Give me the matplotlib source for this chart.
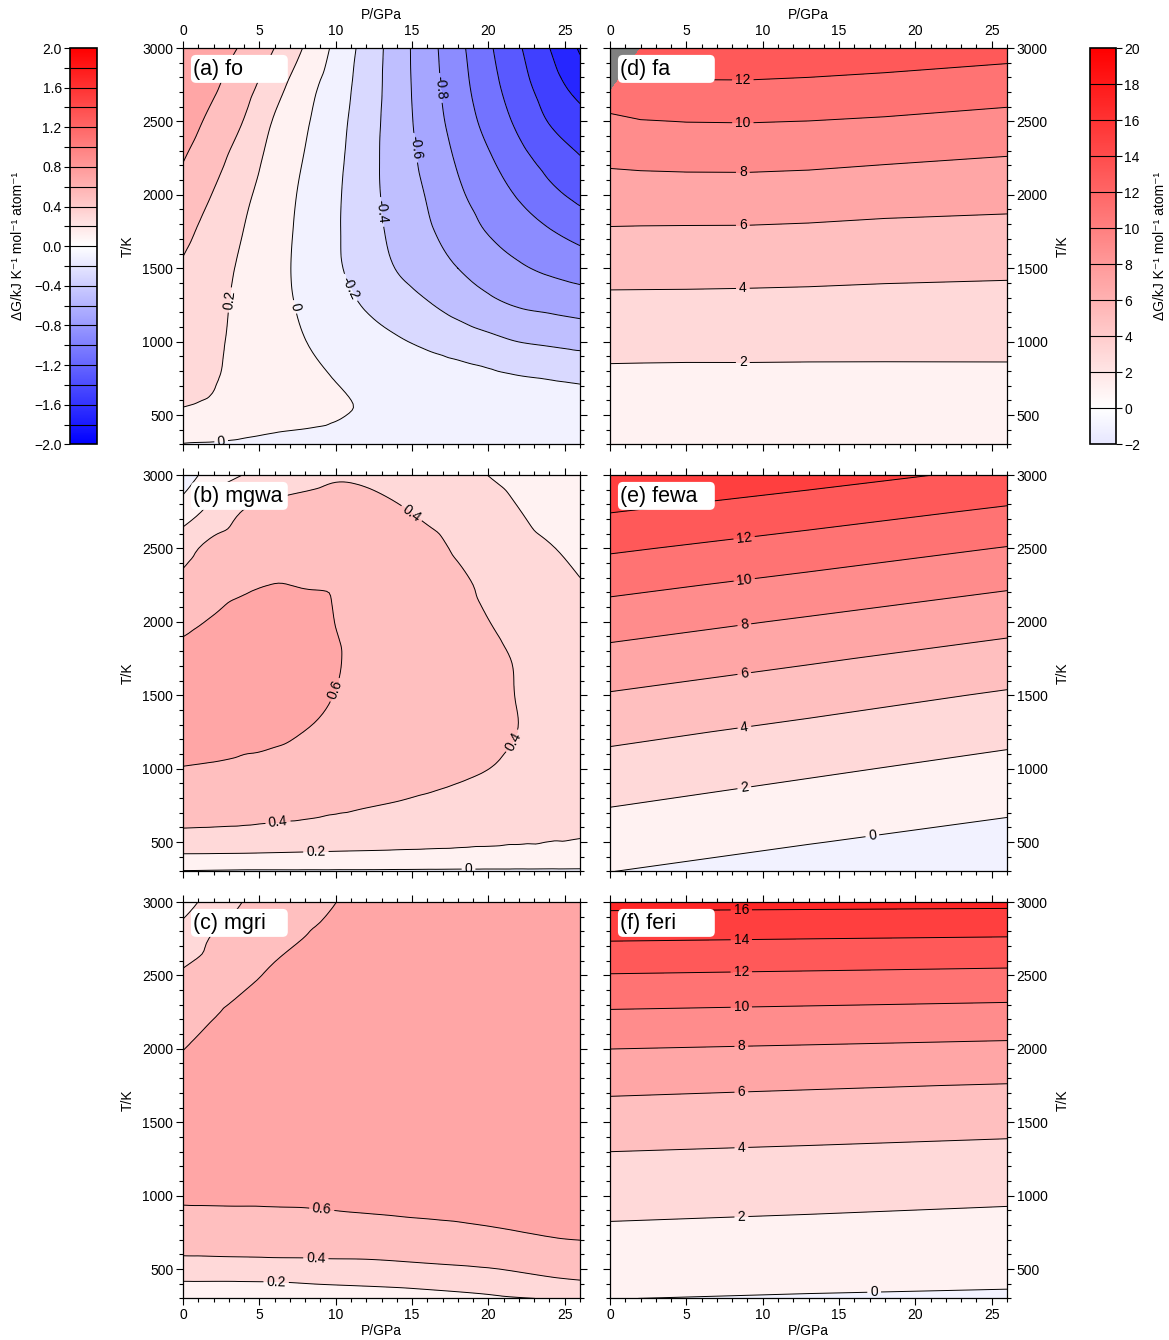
import numpy as np
import matplotlib
matplotlib.use("Agg")
import matplotlib.pyplot as plt
import matplotlib.tri as mtri
from matplotlib.colors import LinearSegmentedColormap, Normalize
from matplotlib.cm import ScalarMappable
from matplotlib.patches import FancyBboxPatch
from matplotlib.ticker import MultipleLocator, FuncFormatter

plt.rcParams['font.family'] = ['Liberation Sans', 'DejaVu Sans']
plt.rcParams['axes.unicode_minus'] = True
plt.rcParams['contour.negative_linestyle'] = 'solid'

# ---------------------------------------------------------------------------
# Gibbs energy differences, dG (kJ K^-1 mol^-1 atom^-1), on P-T grids.
# Each G array is listed row by row, from the lowest T upward.
# ---------------------------------------------------------------------------
P_mg = [0, 2, 4, 6, 8, 10, 12, 14, 16, 18, 20, 22, 24, 26]
T_mg = [300, 400, 550, 750, 1000, 1250, 1500, 1750, 2000, 2250, 2500, 2750, 3000]

G_fo = [
    [-0.005, -0.01, -0.02, -0.03, -0.04, -0.05, -0.06, -0.07, -0.08, -0.09, -0.10, -0.105, -0.11, -0.115],
    [0.07, 0.05, 0.03, 0.01, -0.003, -0.02, -0.035, -0.05, -0.065, -0.08, -0.09, -0.10, -0.11, -0.12],
    [0.198, 0.17, 0.14, 0.105, 0.07, 0.025, -0.015, -0.05, -0.08, -0.10, -0.12, -0.135, -0.15, -0.16],
    [0.25, 0.208, 0.156, 0.101, 0.047, -0.005, -0.035, -0.066, -0.096, -0.127, -0.159, -0.188, -0.205, -0.22],
    [0.30, 0.227, 0.153, 0.078, 0.003, -0.058, -0.118, -0.179, -0.236, -0.292, -0.347, -0.402, -0.43, -0.461],
    [0.34, 0.247, 0.154, 0.061, -0.033, -0.126, -0.217, -0.30, -0.383, -0.468, -0.553, -0.615, -0.648, -0.681],
    [0.38, 0.273, 0.167, 0.059, -0.053, -0.172, -0.29, -0.407, -0.503, -0.60, -0.687, -0.774, -0.836, -0.888],
    [0.45, 0.322, 0.196, 0.073, -0.05, -0.177, -0.319, -0.453, -0.571, -0.692, -0.811, -0.899, -0.987, -1.07],
    [0.53, 0.39, 0.239, 0.098, -0.038, -0.171, -0.33, -0.477, -0.613, -0.766, -0.895, -1.019, -1.148, -1.25],
    [0.61, 0.469, 0.302, 0.134, -0.01, -0.153, -0.325, -0.494, -0.656, -0.824, -0.977, -1.136, -1.277, -1.39],
    [0.69, 0.547, 0.392, 0.183, 0.024, -0.131, -0.31, -0.501, -0.69, -0.88, -1.064, -1.242, -1.41, -1.52],
    [0.74, 0.63, 0.477, 0.28, 0.077, -0.099, -0.29, -0.502, -0.709, -0.919, -1.124, -1.322, -1.509, -1.69],
    [0.78, 0.69, 0.57, 0.398, 0.182, -0.046, -0.274, -0.50, -0.722, -0.944, -1.167, -1.379, -1.598, -1.82],
]

G_mgwa = [
    [-0.01, -0.015, -0.02, -0.02, -0.02, -0.02, -0.02, -0.022, -0.024, -0.026, -0.027, -0.028, -0.029, -0.03],
    [0.17, 0.168, 0.165, 0.16, 0.155, 0.15, 0.146, 0.142, 0.139, 0.136, 0.134, 0.132, 0.131, 0.13],
    [0.36, 0.355, 0.35, 0.34, 0.33, 0.32, 0.31, 0.295, 0.28, 0.265, 0.25, 0.235, 0.22, 0.21],
    [0.50, 0.49, 0.475, 0.46, 0.445, 0.425, 0.407, 0.39, 0.37, 0.35, 0.33, 0.31, 0.29, 0.27],
    [0.595, 0.585, 0.57, 0.55, 0.53, 0.51, 0.49, 0.47, 0.45, 0.425, 0.401, 0.37, 0.34, 0.31],
    [0.66, 0.66, 0.64, 0.63, 0.598, 0.57, 0.54, 0.51, 0.48, 0.455, 0.43, 0.398, 0.36, 0.32],
    [0.68, 0.70, 0.69, 0.67, 0.64, 0.597, 0.56, 0.52, 0.49, 0.46, 0.43, 0.395, 0.36, 0.32],
    [0.65, 0.69, 0.70, 0.69, 0.66, 0.61, 0.56, 0.52, 0.49, 0.46, 0.425, 0.39, 0.35, 0.30],
    [0.56, 0.615, 0.66, 0.67, 0.65, 0.598, 0.56, 0.52, 0.48, 0.44, 0.402, 0.36, 0.31, 0.26],
    [0.45, 0.53, 0.58, 0.602, 0.595, 0.59, 0.57, 0.53, 0.48, 0.43, 0.37, 0.31, 0.26, 0.21],
    [0.33, 0.46, 0.52, 0.56, 0.575, 0.57, 0.55, 0.51, 0.45, 0.38, 0.32, 0.26, 0.21, 0.16],
    [0.10, 0.26, 0.41, 0.45, 0.47, 0.48, 0.46, 0.42, 0.37, 0.32, 0.27, 0.205, 0.14, 0.09],
    [-0.12, 0.10, 0.205, 0.28, 0.34, 0.38, 0.37, 0.34, 0.30, 0.25, 0.198, 0.15, 0.10, 0.06],
]

P_mgri = [0, 3, 6, 9, 12, 16, 20, 26]
G_mgri = [
    [0.07, 0.07, 0.075, 0.08, 0.095, 0.13, 0.17, 0.225],
    [0.18, 0.18, 0.185, 0.205, 0.22, 0.245, 0.28, 0.375],
    [0.365, 0.37, 0.375, 0.38, 0.385, 0.41, 0.44, 0.49],
    [0.50, 0.505, 0.51, 0.52, 0.535, 0.555, 0.58, 0.63],
    [0.625, 0.628, 0.63, 0.635, 0.645, 0.655, 0.665, 0.67],
    [0.66, 0.67, 0.68, 0.69, 0.70, 0.70, 0.70, 0.695],
    [0.66, 0.67, 0.68, 0.69, 0.70, 0.70, 0.70, 0.70],
    [0.64, 0.66, 0.68, 0.69, 0.70, 0.70, 0.70, 0.70],
    [0.598, 0.64, 0.67, 0.69, 0.70, 0.70, 0.70, 0.70],
    [0.512, 0.615, 0.65, 0.68, 0.70, 0.70, 0.70, 0.70],
    [0.425, 0.53, 0.62, 0.66, 0.69, 0.70, 0.70, 0.70],
    [0.283, 0.48, 0.56, 0.62, 0.67, 0.69, 0.70, 0.70],
    [0.12, 0.35, 0.51, 0.575, 0.64, 0.68, 0.69, 0.70],
]

P_fa = [0, 2, 5, 9, 13, 18, 26]
T_fe = [300, 500, 750, 1000, 1250, 1500, 1750, 2000, 2250, 2500, 2700, 3000]
G_fa = [
    [0.02, 0.04, 0.05, 0.05, 0.05, 0.05, 0.05],
    [0.72, 0.71, 0.69, 0.68, 0.66, 0.64, 0.60],
    [1.62, 1.60, 1.58, 1.59, 1.58, 1.58, 1.59],
    [2.57, 2.56, 2.55, 2.54, 2.52, 2.51, 2.51],
    [3.55, 3.55, 3.54, 3.51, 3.48, 3.42, 3.37],
    [4.65, 4.63, 4.62, 4.59, 4.53, 4.42, 4.31],
    [5.83, 5.80, 5.78, 5.77, 5.69, 5.54, 5.42],
    [7.08, 7.10, 7.12, 7.12, 7.03, 6.83, 6.63],
    [8.36, 8.47, 8.54, 8.56, 8.47, 8.25, 7.93],
    [9.63, 9.92, 10.03, 10.06, 9.98, 9.80, 9.40],
    [10.99, 11.26, 11.36, 11.38, 11.26, 11.06, 10.65],
    [np.nan, 13.50, 13.64, 13.64, 13.48, 13.20, 12.74],
]

P_fe = [0, 13, 26]
T_fe2 = [300, 500, 750, 1000, 1250, 1500, 1750, 2000, 2250, 2500, 2750, 3000]
G_fewa = [
    [0.02, -0.81, -1.56],
    [0.91, 0.07, -0.71],
    [2.06, 1.17, 0.35],
    [3.25, 2.30, 1.41],
    [4.50, 3.51, 2.55],
    [5.86, 4.83, 3.79],
    [7.33, 6.24, 5.18],
    [8.88, 7.76, 6.65],
    [10.53, 9.38, 8.24],
    [12.26, 11.10, 9.91],
    [14.06, 12.90, 11.70],
    [15.87, 14.76, 13.55],
]
G_feri = [
    [0.02, -0.12, -0.22],
    [0.76, 0.61, 0.48],
    [1.70, 1.52, 1.35],
    [2.71, 2.50, 2.27],
    [3.75, 3.55, 3.34],
    [5.02, 4.78, 4.54],
    [6.41, 6.16, 5.92],
    [8.01, 7.80, 7.58],
    [9.85, 9.65, 9.45],
    [11.90, 11.72, 11.53],
    [14.15, 14.01, 13.87],
    [16.57, 16.51, 16.45],
]

# contour-label anchor points (P, T)
lab_fo = [(3.1, 1283), (7.3, 1236), (10.9, 1365), (13.0, 1883), (15.1, 2319), (16.9, 2728), (2.5, 323)]
lab_mgwa = [(14.9, 2728), (10.0, 1535), (21.7, 1181), (6.2, 657), (8.7, 452), (18.7, 316)]
lab_mgri = [(9.1, 922), (8.7, 575), (6.1, 411)]
lab_fa = [(8.7, 2802), (8.7, 2489), (8.7, 2155), (8.7, 1794), (8.7, 1372), (8.7, 861)]
lab_fewa = [(8.8, 2557), (8.8, 2278), (8.8, 1978), (8.8, 1644), (8.8, 1283), (8.8, 868), (17.2, 527)]
lab_feri = [(8.6, 2939), (8.6, 2734), (8.6, 2516), (8.6, 2285), (8.6, 2019), (8.6, 1713),
            (8.6, 1345), (8.6, 875), (17.3, 343)]

W, H = 1169, 1340
fig = plt.figure(figsize=(W / 100, H / 100), dpi=100)

polar = LinearSegmentedColormap.from_list('polar', ['#0000ff', '#ffffff', '#ff0000'], N=1024)
norm_mg = Normalize(-2, 2)
norm_fe = Normalize(-20, 20)
levels_mg = np.round(np.arange(-2.0, 2.001, 0.2), 1)
levels_fe = np.arange(-2, 21, 2)
FS = 10


def px_axes(x0, y0, x1, y1):
    return fig.add_axes([x0 / W, 1 - y1 / H, (x1 - x0) / W, (y1 - y0) / H])


def fmt(v):
    s = f"{round(float(v), 1):g}"
    return "0" if s in ("-0", "0") else s


def signed(v, nd):
    s = f"{v:.{nd}f}"
    if float(s) == 0:
        s = s.lstrip('-')
    return s.replace('-', '\u2212')


def draw_panel(ax, P, T, G, levels, norm, manual, tag, col, row, bg='white', smooth=None):
    ax.set_facecolor(bg)
    Z = np.array(G, dtype=float)
    kw_fill = dict(levels=levels, cmap=polar, norm=norm, extend='both', zorder=1)
    kw_line = dict(levels=levels, colors='k', linewidths=0.7, linestyles='solid', zorder=2)
    if smooth:
        # cubic interpolation of the grid by matplotlib's triangulation refiner
        PP, TT = np.meshgrid(np.asarray(P, float), np.asarray(T, float) / 100.0)
        tri = mtri.Triangulation(PP.ravel(), TT.ravel())
        interp = mtri.CubicTriInterpolator(tri, Z.ravel(), kind=smooth)
        tri_r, z_r = mtri.UniformTriRefiner(tri).refine_field(Z.ravel(), triinterpolator=interp,
                                                              subdiv=3)
        tri_d = mtri.Triangulation(tri_r.x, tri_r.y * 100.0, tri_r.triangles)
        ax.tricontourf(tri_d, z_r, **kw_fill)
        cs = ax.tricontour(tri_d, z_r, **kw_line)
    else:
        Zm = np.ma.masked_invalid(Z)
        ax.contourf(P, T, Zm, **kw_fill)
        cs = ax.contour(P, T, Zm, **kw_line)
    ax.clabel(cs, manual=manual, inline=True, fmt=fmt, fontsize=FS, inline_spacing=3)
    ax.set_xlim(0, 26)
    ax.set_ylim(300, 3000)
    ax.xaxis.set_major_locator(MultipleLocator(5))
    ax.xaxis.set_minor_locator(MultipleLocator(1))
    ax.yaxis.set_major_locator(MultipleLocator(500))
    ax.yaxis.set_minor_locator(MultipleLocator(100))
    ax.tick_params(which='both', direction='out', top=True, bottom=True, left=True, right=True,
                   labelsize=FS, width=0.8, colors='k')
    ax.tick_params(which='major', length=5, pad=2)
    ax.tick_params(which='minor', length=3)
    ax.tick_params(labeltop=(row == 0), labelbottom=(row == 2),
                   labelleft=(col == 0), labelright=(col == 1))
    for sp in ax.spines.values():
        sp.set_linewidth(0.9)
    box = FancyBboxPatch((0.020, 0.912), 0.244, 0.0706, transform=ax.transAxes,
                         boxstyle="round,pad=0,rounding_size=0.013",
                         facecolor='white', edgecolor='none', zorder=5)
    ax.add_patch(box)
    ax.text(0.026, 0.947, tag, transform=ax.transAxes, ha='left', va='center',
            fontsize=15.5, zorder=6)


cols = [(183, 580), (610, 1007)]
rows = [(48, 444.4), (475, 871.4), (902, 1298.4)]

panels = [
    (0, 0, P_mg, T_mg, G_fo, levels_mg, norm_mg, lab_fo, '(a) fo', 'white', 'geom'),
    (0, 1, P_mg, T_mg, G_mgwa, levels_mg, norm_mg, lab_mgwa, '(b) mgwa', 'white', 'geom'),
    (0, 2, P_mgri, T_mg, G_mgri, levels_mg, norm_mg, lab_mgri, '(c) mgri', 'white', 'geom'),
    (1, 0, P_fa, T_fe, G_fa, levels_fe, norm_fe, lab_fa, '(d) fa', '#808080', None),
    (1, 1, P_fe, T_fe2, G_fewa, levels_fe, norm_fe, lab_fewa, '(e) fewa', 'white', None),
    (1, 2, P_fe, T_fe2, G_feri, levels_fe, norm_fe, lab_feri, '(f) feri', 'white', None),
]

for col, row, P, T, G, lev, nrm, lab, tag, bg, smooth in panels:
    x0, x1 = cols[col]
    y0, y1 = rows[row]
    ax = px_axes(x0, y0, x1, y1)
    draw_panel(ax, P, T, G, lev, nrm, lab, tag, col, row, bg, smooth)

# axis titles
for cx in (381.5, 808.5):
    fig.text(cx / W, 1 - 15 / H, 'P/GPa', ha='center', va='center', fontsize=FS)
    fig.text(cx / W, 1 - 1331 / H, 'P/GPa', ha='center', va='center', fontsize=FS)
for y0, y1 in rows:
    yc = 1 - (y0 + y1) / 2 / H
    fig.text(128 / W, yc, 'T/K', ha='center', va='center', rotation=90, fontsize=FS)
    fig.text(1063 / W, yc, 'T/K', ha='center', va='center', rotation=90, fontsize=FS)

cb_label = 'ΔG/kJ K⁻¹ mol⁻¹ atom⁻¹'

# left colour bar (Mg end-members)
cax1 = px_axes(70, 48, 97, 444.4)
cb1 = fig.colorbar(ScalarMappable(norm=norm_mg, cmap=polar), cax=cax1,
                   boundaries=np.linspace(-2, 2, 401))
cb1.outline.set_linewidth(1.2)
cax1.yaxis.set_ticks_position('left')
cb1.set_ticks(np.round(np.arange(-2.0, 2.001, 0.4), 1))
cax1.yaxis.set_major_formatter(FuncFormatter(lambda v, _: signed(v, 1)))
cax1.yaxis.set_minor_locator(MultipleLocator(0.2))
cax1.tick_params(which='both', direction='out', labelsize=FS, width=0.8, left=True, right=False)
cax1.tick_params(which='major', length=4, pad=2)
cax1.tick_params(which='minor', length=4)
for v in levels_mg[1:-1]:
    cax1.axhline(v, color='k', lw=0.8)
fig.text(18 / W, 1 - 246 / H, cb_label, rotation=90, ha='center', va='center', fontsize=FS)

# right colour bar (Fe end-members)
cax2 = px_axes(1090, 48, 1116, 444.4)
cb2 = fig.colorbar(ScalarMappable(norm=norm_fe, cmap=polar), cax=cax2,
                   boundaries=np.linspace(-2, 20, 441))
cb2.outline.set_linewidth(1.2)
cb2.set_ticks(levels_fe)
cax2.yaxis.set_major_formatter(FuncFormatter(lambda v, _: signed(v, 0)))
cax2.tick_params(which='both', direction='out', labelsize=FS, width=0.8, right=True, left=False)
cax2.tick_params(which='major', length=4, pad=2)
for v in levels_fe[1:-1]:
    cax2.axhline(v, color='k', lw=0.8)
fig.text(1160 / W, 1 - 246 / H, cb_label, rotation=90, ha='center', va='center', fontsize=FS)

fig.savefig('out.png', dpi=100)
